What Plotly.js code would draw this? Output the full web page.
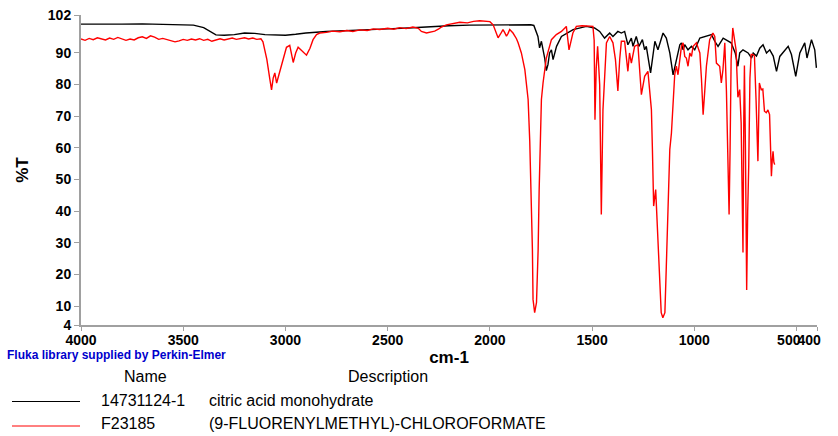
<!DOCTYPE html>
<html>
<head>
<meta charset="utf-8">
<script src="https://cdn.plot.ly/plotly-3.0.1.min.js"></script>
<style>html,body{margin:0;padding:0;background:#fff;}#chart{width:838px;height:436px;}</style>
</head>
<body>
<div id="chart"></div>
<script>
// Wavenumbers (cm-1) and %T for citric acid monohydrate (black)
const wnBlack = [
 4000, 3900, 3800, 3700, 3600, 3500, 3450, 3400, 3370, 3340,
 3300, 3250, 3200, 3150, 3100, 3050, 3000, 2950, 2900, 2800,
 2700, 2600, 2500, 2400, 2300, 2200, 2100, 2000, 1900, 1800,
 1785, 1775, 1765, 1757, 1748, 1732, 1724, 1716, 1708, 1699,
 1691, 1674, 1650, 1593, 1528, 1488, 1463, 1439, 1414, 1398,
 1374, 1357, 1341, 1325, 1308, 1300, 1284, 1271, 1254, 1243,
 1235, 1214, 1193, 1178, 1153, 1137, 1120, 1104, 1088, 1071,
 1063, 1055, 1047, 1031, 1014, 998, 973, 941, 916, 900,
 884, 859, 840, 820, 800, 787, 778, 762, 737, 720,
 712, 696, 680, 664, 647, 631, 614, 598, 582, 560,
 541, 525, 504, 484, 460, 449, 438, 427, 411, 403
];
const tBlack = [
 99.1, 99.0, 99.1, 99.2, 99.1, 99.0, 98.8, 98.0, 96.8, 95.7,
 95.6, 95.8, 96.3, 96.2, 95.8, 95.6, 95.6, 95.9, 96.3, 96.8,
 97.0, 97.3, 97.6, 97.9, 98.3, 98.6, 98.8, 98.9, 98.9, 98.9,
 98.7, 97.0, 95.2, 91.6, 93.7, 88.4, 84.4, 86.3, 90.0, 91.0,
 87.9, 92.1, 95.2, 97.4, 98.4, 97.9, 96.8, 94.7, 96.3, 95.2,
 96.8, 96.3, 96.8, 92.6, 94.7, 92.1, 95.2, 92.1, 94.2, 91.0,
 92.1, 83.7, 93.7, 91.0, 96.3, 94.7, 90.0, 83.1, 87.9, 92.6,
 93.2, 91.0, 92.6, 91.0, 92.1, 91.0, 94.7, 95.2, 95.8, 93.7,
 92.1, 94.7, 94.0, 93.2, 90.0, 85.8, 90.0, 91.0, 90.0, 88.4,
 90.0, 89.0, 91.5, 92.6, 90.0, 91.0, 89.0, 84.2, 88.9, 90.5,
 92.1, 89.5, 82.6, 90.0, 93.2, 88.4, 91.0, 94.2, 91.0, 85.3
];

// Wavenumbers (cm-1) and %T for (9-fluorenylmethyl)-chloroformate (red)
const wnRed = [
 4000, 3980, 3960, 3940, 3920, 3900, 3880, 3860, 3840, 3820,
 3800, 3780, 3760, 3740, 3720, 3700, 3680, 3660, 3640, 3620,
 3600, 3580, 3560, 3540, 3520, 3500, 3480, 3460, 3440, 3420,
 3400, 3380, 3360, 3340, 3320, 3300, 3280, 3260, 3240, 3220,
 3200, 3180, 3160, 3140, 3120, 3110, 3091, 3076, 3068, 3060,
 3052, 3043, 3035, 3027, 3012, 2995, 2979, 2962, 2950, 2938,
 2925, 2913, 2897, 2880, 2865, 2848, 2832, 2800, 2770, 2734,
 2700, 2670, 2636, 2600, 2570, 2539, 2500, 2470, 2441, 2410,
 2377, 2350, 2335, 2310, 2290, 2270, 2250, 2237, 2213, 2180,
 2147, 2110, 2080, 2050, 2020, 2000, 1984, 1972, 1960, 1948,
 1936, 1928, 1919, 1911, 1903, 1887, 1870, 1862, 1846, 1829,
 1813, 1805, 1797, 1792, 1789, 1781, 1772, 1764, 1759, 1752,
 1748, 1740, 1724, 1699, 1675, 1650, 1626, 1613, 1594, 1577,
 1550, 1528, 1496, 1490, 1486, 1480, 1473, 1463, 1455, 1447,
 1430, 1414, 1398, 1386, 1374, 1365, 1357, 1341, 1325, 1317,
 1308, 1292, 1276, 1259, 1243, 1227, 1210, 1205, 1199, 1189,
 1183, 1173, 1162, 1154, 1144, 1137, 1129, 1120, 1112, 1104,
 1096, 1088, 1080, 1063, 1055, 1047, 1039, 1031, 1022, 1014,
 1006, 990, 973, 965, 957, 949, 941, 925, 909, 900,
 892, 876, 868, 860, 851, 843, 835, 830, 825, 820,
 812, 804, 796, 787, 778, 771, 766, 762, 758, 755,
 750, 744, 739, 734, 728, 722, 714, 706, 698, 689,
 682, 673, 665, 657, 648, 640, 632, 627, 623, 619,
 615, 611, 607
];
const tRed = [
 94.4, 94.0, 94.6, 94.2, 94.8, 94.5, 94.1, 94.7, 94.3, 94.9,
 94.5, 94.0, 94.4, 94.1, 94.8, 95.1, 94.6, 95.4, 95.0, 94.3,
 94.6, 94.2, 94.0, 93.5, 93.8, 94.3, 94.0, 94.4, 94.1, 94.5,
 94.0, 94.3, 93.7, 94.2, 94.5, 94.1, 94.4, 94.7, 94.3, 94.6,
 94.8, 94.4, 94.7, 94.3, 94.5, 93.5, 88.0, 81.6, 78.3, 82.0,
 83.7, 80.5, 82.5, 84.7, 88.4, 91.8, 92.4, 87.0, 90.0, 91.8,
 91.0, 90.2, 89.3, 91.5, 94.2, 95.8, 96.3, 96.5, 96.9, 96.7,
 97.1, 96.8, 97.3, 97.1, 97.6, 97.4, 97.8, 97.5, 98.0, 97.7,
 98.2, 97.8, 96.8, 96.3, 96.5, 96.9, 97.6, 98.2, 98.9, 99.2,
 99.7, 99.5, 100.0, 100.2, 99.9, 99.9, 98.9, 97.0, 94.8, 96.0,
 97.4, 96.5, 95.3, 96.2, 97.4, 96.3, 94.5, 93.2, 90.0, 84.7,
 75.3, 62.0, 43.7, 27.9, 12.1, 7.9, 11.1, 27.9, 46.8, 70.0,
 75.3, 80.5, 88.4, 94.2, 95.8, 96.8, 98.4, 91.0, 96.3, 98.4,
 98.6, 98.5, 98.4, 94.0, 68.9, 85.0, 92.1, 80.0, 38.9, 72.0,
 93.2, 95.2, 93.2, 88.0, 78.0, 88.0, 93.7, 93.7, 84.2, 90.0,
 86.8, 92.1, 92.6, 76.8, 82.6, 84.2, 72.1, 59.5, 41.6, 46.8,
 38.4, 22.6, 7.9, 6.3, 7.9, 22.6, 38.4, 59.5, 64.7, 75.3,
 83.1, 85.8, 83.1, 92.1, 93.2, 88.9, 88.4, 85.8, 90.0, 88.9,
 92.1, 93.2, 90.0, 81.6, 70.5, 78.0, 85.8, 94.2, 96.3, 95.2,
 86.8, 85.8, 80.5, 84.7, 93.2, 78.0, 52.0, 38.9, 60.0, 88.0,
 97.9, 95.0, 91.0, 76.0, 78.4, 67.9, 50.0, 26.9, 70.0, 86.0,
 60.0, 15.1, 40.0, 54.2, 82.0, 89.5, 89.5, 89.0, 75.0, 55.8,
 80.5, 78.4, 78.6, 71.6, 71.1, 72.0, 70.5, 57.3, 51.0, 56.0,
 58.9, 55.5, 54.7
];

const xTickVals = [4000, 3500, 3000, 2500, 2000, 1500, 1000, 500, 400];
const xTickText = ['4000', '3500', '3000', '2500', '2000', '1500', '1000', '500', '400'];
const yTickVals = [4, 10, 20, 30, 40, 50, 60, 70, 80, 90, 102];

const sampleNames = ['14731124-1', 'F23185'];
const sampleDescriptions = ['citric acid monohydrate', '(9-FLUORENYLMETHYL)-CHLOROFORMATE'];
const sampleColors = ['#000000', '#ff0000'];

const FONT = 'Liberation Sans, Arial, Helvetica, sans-serif';

const traces = [
  {x: wnBlack, y: tBlack, type: 'scatter', mode: 'lines', name: sampleNames[0],
   line: {color: sampleColors[0], width: 1.4}},
  {x: wnRed, y: tRed, type: 'scatter', mode: 'lines', name: sampleNames[1],
   line: {color: sampleColors[1], width: 1.4}}
];

// pixel helpers -> paper coords (plot area: x 81..817, y 15..325)
const L = 81, R = 817, T = 15, B = 325;
const px = x => (x - L) / (R - L);
const py = y => (B - y) / (B - T);

// the two last labels sit side by side ("500400"), nudged left as in the original
const fmtTick = t => (t === '500' || t === '400') ? '<b>' + t + '</b>&nbsp;&nbsp;&nbsp;&nbsp;' : '<b>' + t + '</b>';

const annotations = [
  {text: '<b>Fluka library supplied by Perkin-Elmer</b>', xref: 'paper', yref: 'paper',
   x: px(5), y: py(355), xanchor: 'left', yanchor: 'middle', showarrow: false,
   font: {family: FONT, size: 12, color: '#0000cc'}},
  {text: 'Name', xref: 'paper', yref: 'paper', x: px(145), y: py(376), xanchor: 'center', yanchor: 'middle',
   showarrow: false, font: {family: FONT, size: 16, color: '#000'}},
  {text: 'Description', xref: 'paper', yref: 'paper', x: px(346), y: py(376), xanchor: 'left', yanchor: 'middle',
   showarrow: false, font: {family: FONT, size: 16, color: '#000'}}
];
const rowY = [400, 423.5];
const lineY = [401.5, 426];
const shapes = [];
for (let i = 0; i < sampleNames.length; i++) {
  annotations.push({text: sampleNames[i], xref: 'paper', yref: 'paper', x: px(99), y: py(rowY[i]),
    xanchor: 'left', yanchor: 'middle', showarrow: false, font: {family: FONT, size: 16, color: '#000'}});
  annotations.push({text: sampleDescriptions[i], xref: 'paper', yref: 'paper', x: px(207), y: py(rowY[i]),
    xanchor: 'left', yanchor: 'middle', showarrow: false, font: {family: FONT, size: 16, color: '#000'}});
  shapes.push({type: 'line', xref: 'paper', yref: 'paper', x0: px(12), x1: px(80), y0: py(lineY[i]), y1: py(lineY[i]),
    line: {color: sampleColors[i], width: 1}});
}

const layout = {
  width: 838, height: 436,
  margin: {l: L, r: 838 - R, t: T, b: 436 - B, pad: 0},
  paper_bgcolor: '#ffffff', plot_bgcolor: '#ffffff',
  showlegend: false,
  font: {family: FONT, color: '#000000'},
  xaxis: {
    range: [4000, 400], autorange: false,
    tickmode: 'array', tickvals: xTickVals, ticktext: xTickText.map(fmtTick),
    tickangle: 0, ticklabelstandoff: -3,
    showgrid: false, zeroline: false, showline: true, linecolor: '#a0a0a0', linewidth: 2,
    ticks: 'outside', ticklen: 4, tickwidth: 1, tickcolor: '#a0a0a0',
    tickfont: {family: FONT, size: 14, color: '#000'},
    automargin: false,
    title: {text: '<b>cm-1</b>', font: {family: FONT, size: 17, color: '#000'}, standoff: 4}
  },
  yaxis: {
    range: [4, 102], autorange: false,
    tickmode: 'array', tickvals: yTickVals, ticktext: yTickVals.map(v => '<b>' + v + '</b>'),
    showgrid: false, zeroline: false, showline: true, linecolor: '#a0a0a0', linewidth: 2,
    ticks: 'outside', ticklen: 5, tickwidth: 1, tickcolor: '#a0a0a0',
    tickfont: {family: FONT, size: 14, color: '#000'},
    automargin: false,
    title: {text: '<b>%T</b>', font: {family: FONT, size: 17, color: '#000'}, standoff: 15}
  },
  annotations: annotations,
  shapes: shapes
};

Plotly.newPlot('chart', traces, layout, {displayModeBar: false, staticPlot: true});
</script>
</body>
</html>
